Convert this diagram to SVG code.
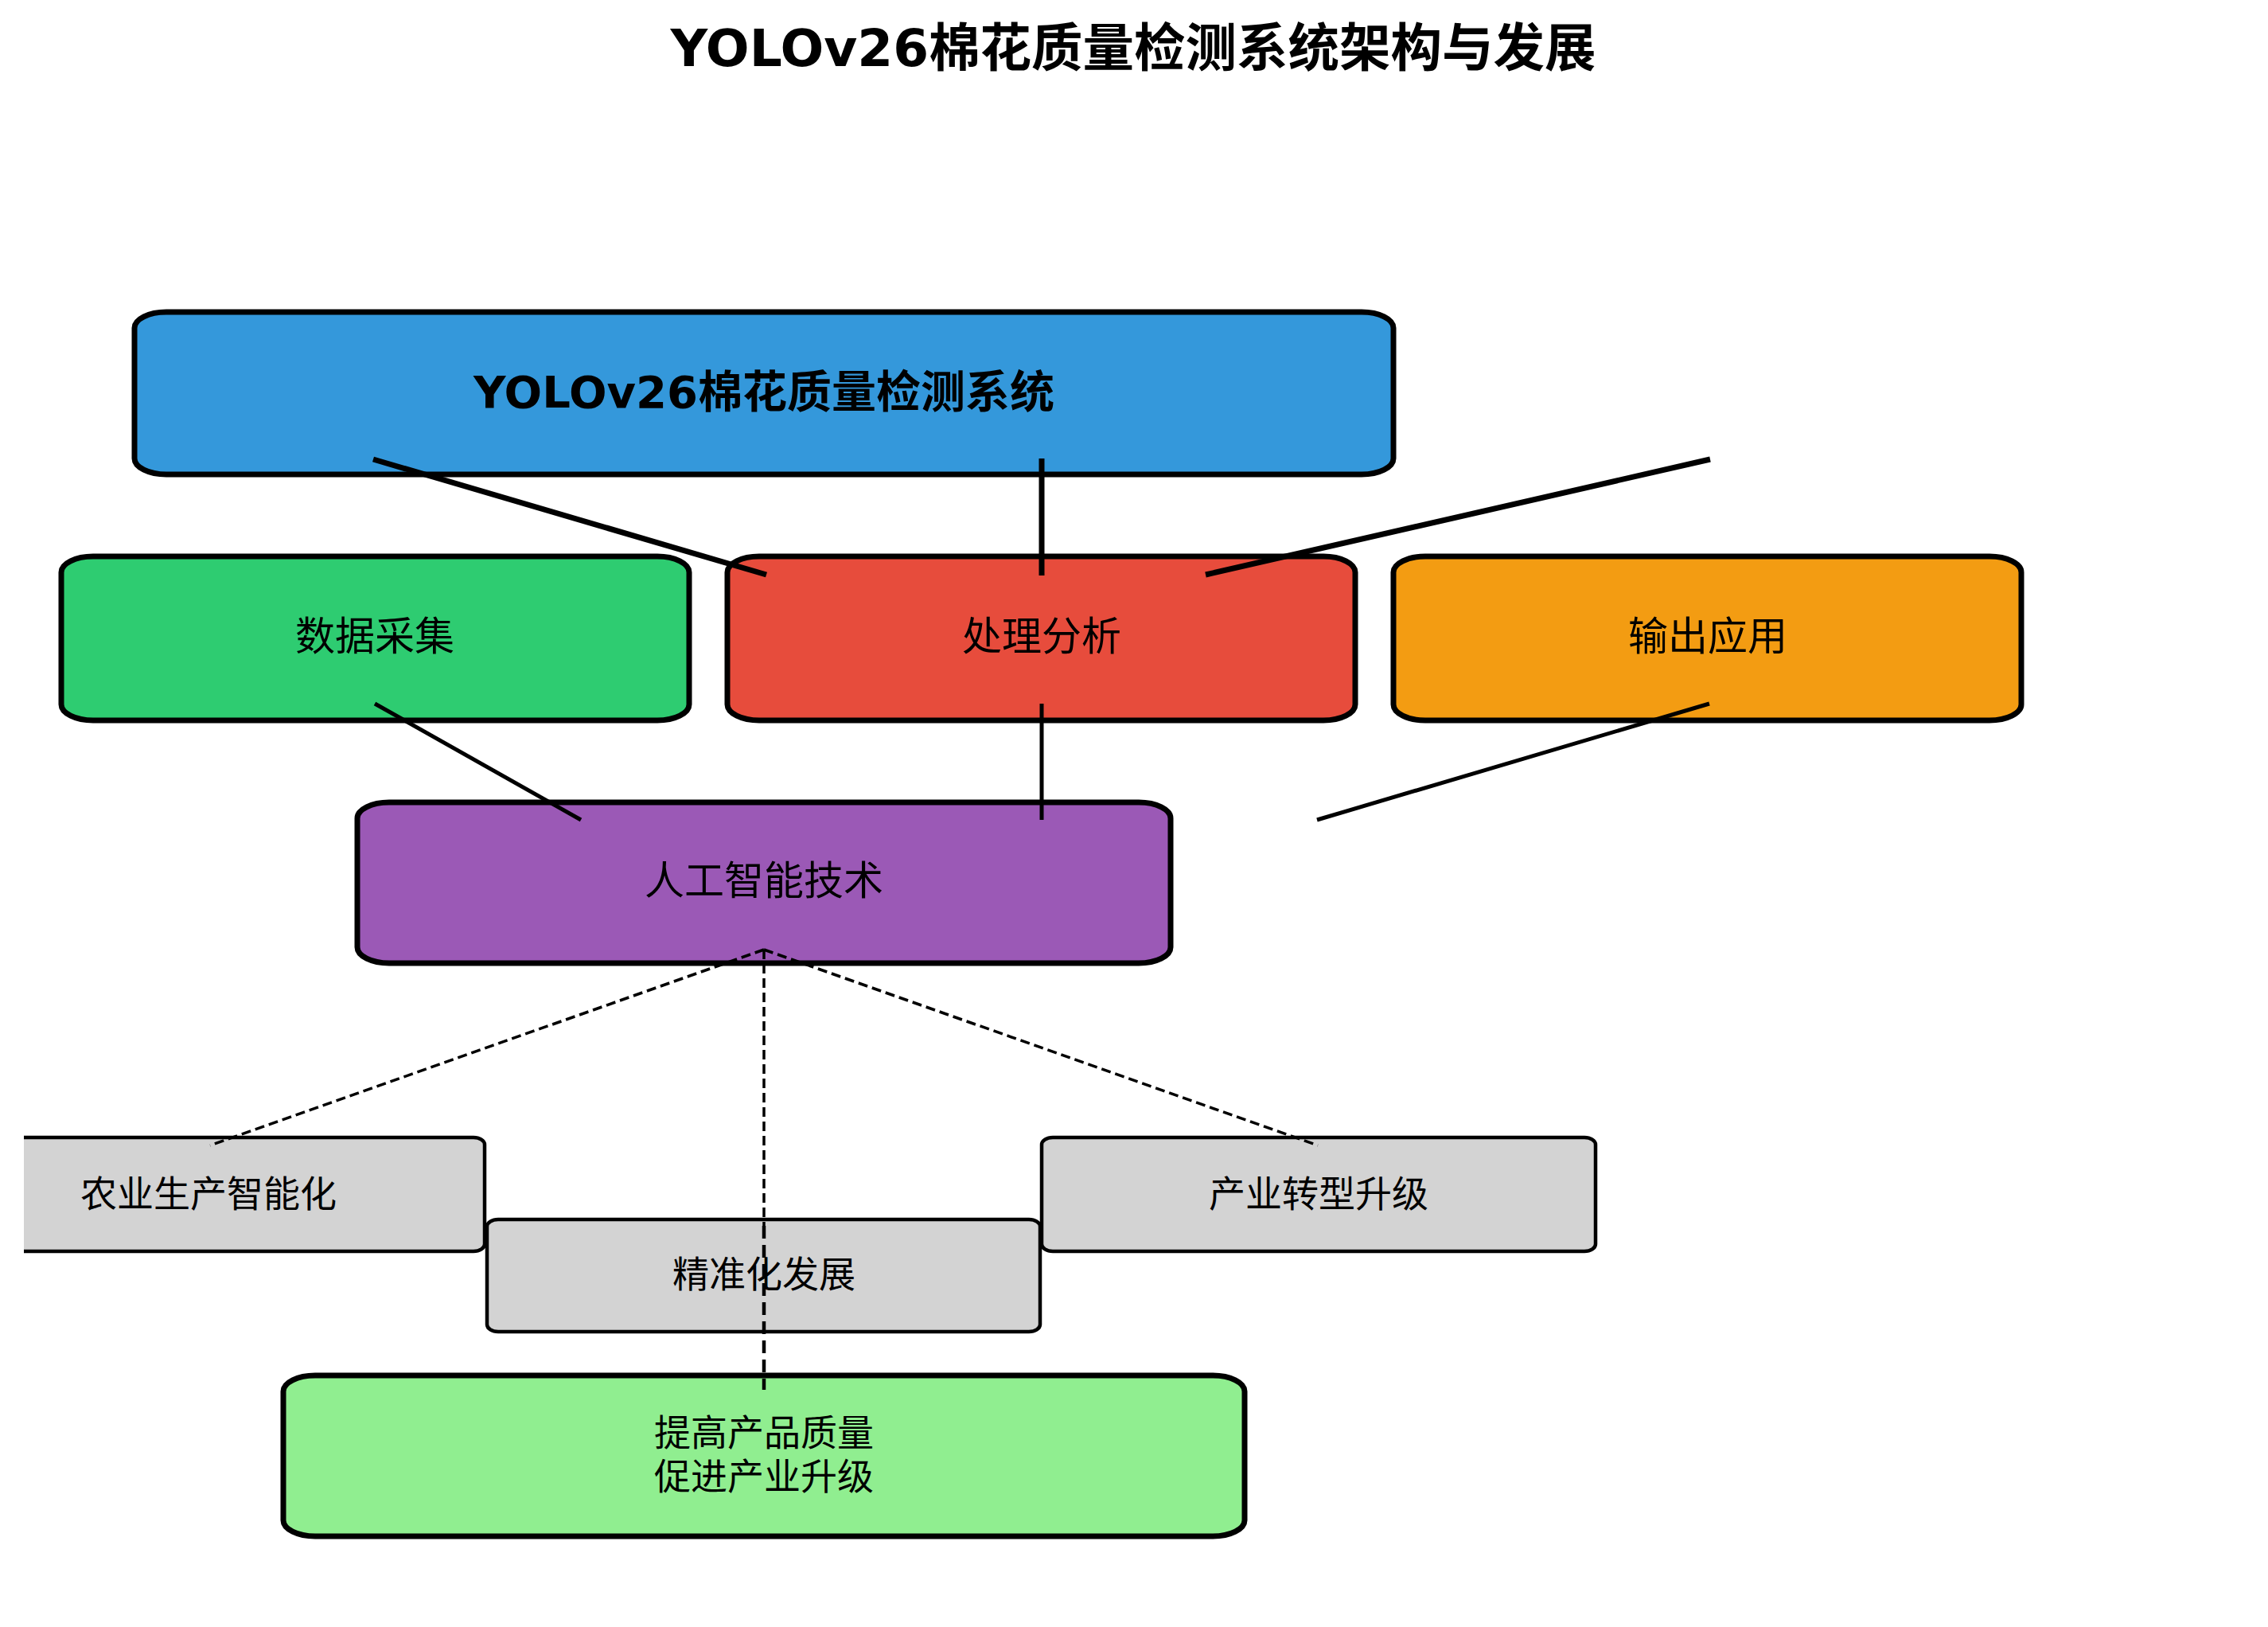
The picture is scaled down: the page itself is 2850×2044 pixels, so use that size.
<svg xmlns="http://www.w3.org/2000/svg" width="2850" height="2044" viewBox="0 0 2850 2044">
<style>
text{font-family:"DejaVu Sans","Noto Sans CJK SC",sans-serif;fill:#000;text-anchor:middle;dominant-baseline:central}
.t{font-size:64.5px;font-weight:bold}
.h{font-size:56px;font-weight:bold}
.n{font-size:50px}
.s{font-size:46px}
.big{stroke:#000;stroke-width:7}
.sm{stroke:#000;stroke-width:4.5;fill:#d3d3d3}
.l1{stroke:#000;stroke-width:7;fill:none}
.l2{stroke:#000;stroke-width:5;fill:none}
.d1{stroke:#000;stroke-width:3.5;fill:none;stroke-dasharray:12 6}
.d2{stroke:#000;stroke-width:4.5;fill:none;stroke-dasharray:16 8}
</style>
<defs>
<clipPath id="ax"><rect x="30" y="0" width="2820" height="2044"/></clipPath>
</defs>
<rect width="2850" height="2044" fill="#fff"/>
<text class="t" x="1424" y="60">YOLOv26棉花质量检测系统架构与发展</text>
<g id="n-system"><rect class="big" x="169" y="392" width="1582" height="204" rx="40" ry="20" fill="#3498db"/><text class="h" x="960" y="492">YOLOv26棉花质量检测系统</text></g>
<g id="n-data"><rect class="big" x="77" y="699" width="789" height="206" rx="40" ry="20" fill="#2ecc71"/><text class="n" x="471" y="800">数据采集</text></g>
<g id="n-proc"><rect class="big" x="914" y="699" width="789" height="206" rx="40" ry="20" fill="#e74c3c"/><text class="n" x="1309" y="800">处理分析</text></g>
<g id="n-out"><rect class="big" x="1751" y="699" width="789" height="206" rx="40" ry="20" fill="#f39c12"/><text class="n" x="2146" y="800">输出应用</text></g>
<g id="n-ai"><rect class="big" x="449" y="1008" width="1022" height="202" rx="40" ry="20" fill="#9b59b6"/><text class="n" x="960" y="1107">人工智能技术</text></g>
<g id="n-agri"><rect class="sm" x="-86" y="1429" width="695" height="143" rx="14" ry="9" clip-path="url(#ax)"/><text class="s" x="262" y="1500">农业生产智能化</text></g>
<g id="n-prec"><rect class="sm" x="612" y="1532" width="695" height="141" rx="14" ry="9"/><text class="s" x="960" y="1601">精准化发展</text></g>
<g id="n-ind"><rect class="sm" x="1309" y="1429" width="696" height="143" rx="14" ry="9"/><text class="s" x="1657" y="1500">产业转型升级</text></g>
<g id="n-goal"><rect class="big" x="356" y="1728" width="1208" height="202" rx="40" ry="20" fill="#90ee90"/><text class="s" x="960" y="1800">提高产品质量</text><text class="s" x="960" y="1855">促进产业升级</text></g>
<g id="connectors">
<line class="l1" x1="469" y1="577" x2="963" y2="722"/>
<line class="l1" x1="1309" y1="576" x2="1309" y2="723"/>
<line class="l1" x1="2149" y1="577" x2="1515" y2="722"/>
<line class="l2" x1="471" y1="884" x2="730" y2="1030"/>
<line class="l2" x1="1309" y1="884" x2="1309" y2="1030"/>
<line class="l2" x1="2148" y1="884" x2="1655" y2="1030"/>
<line class="d1" x1="960" y1="1193" x2="264" y2="1439"/>
<line class="d1" x1="960" y1="1193" x2="1656" y2="1439"/>
<line class="d1" x1="960" y1="1193" x2="960" y2="1540"/>
<line class="d2" x1="960" y1="1540" x2="960" y2="1746"/>
</g>
</svg>
